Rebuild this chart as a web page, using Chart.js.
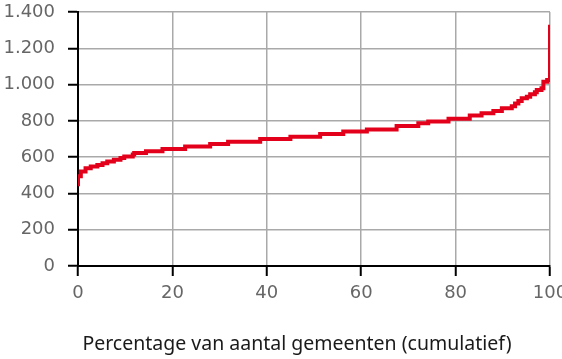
<!DOCTYPE html>
<html>
<head>
<meta charset="utf-8">
<script src="https://cdn.jsdelivr.net/npm/chart.js@4"></script>
<style>
html,body{margin:0;padding:0;background:#fff;}
#c{display:block;}
</style>
</head>
<body>
<canvas id="c" width="562" height="359"></canvas>
<script>
// Step start (percentage of municipalities, cumulative) and the value held from there
const pct = [0, 0, 0.6, 1.6, 2.7, 4.1, 5.2, 6.2, 7.6, 9.0, 9.8, 11.6, 11.9, 14.4, 17.9, 22.7, 28.0, 31.8, 38.6, 45.0, 51.3, 56.2, 61.2, 67.5, 72.1, 74.2, 78.5, 83.0, 85.5, 88.0, 89.8, 91.9, 92.6, 93.3, 94.0, 95.1, 95.8, 96.8, 97.2, 98.2, 98.6, 99.4, 100];
const values = [440, 495, 521, 539, 548, 557, 567, 576, 585, 595, 604, 614, 623, 632, 645, 658, 672, 685, 700, 713, 728, 742, 753, 772, 787, 796, 812, 829, 842, 854, 869, 880, 895, 910, 924, 933, 946, 958, 970, 980, 1016, 1025, 1330];
const xTicks = [0, 20, 40, 60, 80, 100];
const yTicks = [0, 200, 400, 600, 800, 1000, 1200, 1400];
const xTitle = 'Percentage van aantal gemeenten (cumulatief)';

function nl(v){ return String(v).replace(/\B(?=(\d{3})+(?!\d))/g, '.'); }

const shiftTitle = {
  id: 'shiftTitle',
  afterLayout(chart) {
    if (chart.titleBlock) { chart.titleBlock.left = 32; }
  }
};

const tickFont = {family: 'DejaVu Sans', size: 18};
new Chart(document.getElementById('c'), {
  type: 'line',
  data: {
    datasets: [{
      data: pct.map((x, i) => ({x: x, y: values[i]})),
      borderColor: '#e3001b',
      borderWidth: 4,
      pointRadius: 0,
      stepped: true,
      fill: false
    }]
  },
  plugins: [shiftTitle],
  options: {
    responsive: false,
    animation: false,
    layout: {padding: 0},
    plugins: {
      legend: {display: false},
      tooltip: {enabled: false},
      title: {
        display: true,
        position: 'bottom',
        text: xTitle,
        color: '#1a1a1a',
        font: {family: 'Noto Sans', size: 19.5, weight: 'normal'},
        padding: {top: 21, bottom: 3}
      }
    },
    scales: {
      x: {
        type: 'linear',
        min: xTicks[0],
        max: xTicks[xTicks.length - 1],
        afterBuildTicks: s => { s.ticks = xTicks.map(v => ({value: v})); },
        afterFit: s => { s.paddingRight = 12; s.paddingLeft = 0; },
        ticks: {color: '#666', font: tickFont, padding: 7, maxRotation: 0, autoSkip: false},
        grid: {color: '#a9a9a9', lineWidth: 1.5, tickColor: '#000', tickWidth: 2, tickLength: 10},
        border: {color: '#000', width: 2}
      },
      y: {
        min: yTicks[0],
        max: yTicks[yTicks.length - 1],
        afterBuildTicks: s => { s.ticks = yTicks.map(v => ({value: v})); },
        afterFit: s => { s.width = 78; s.paddingTop = 12; s.paddingBottom = 0; },
        ticks: {color: '#666', font: tickFont, padding: 13, callback: v => nl(v)},
        grid: {color: '#a9a9a9', lineWidth: 1.5, tickColor: '#000', tickWidth: 2, tickLength: 10},
        border: {color: '#000', width: 2}
      }
    }
  }
});
</script>
</body>
</html>
